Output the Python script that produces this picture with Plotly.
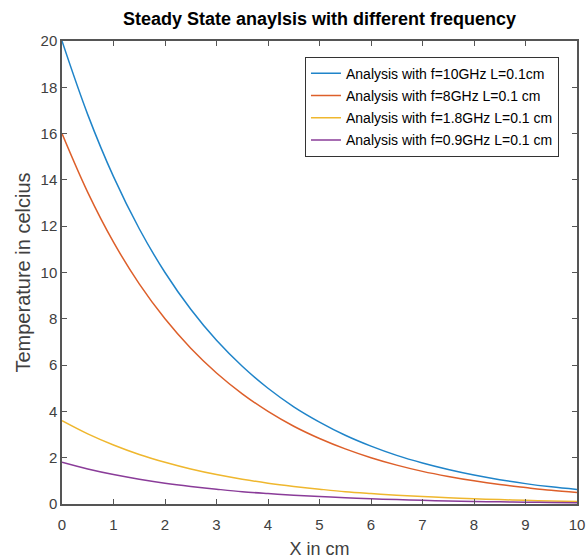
import plotly.graph_objects as go

x_cm = [0, 0.5, 1, 1.5, 2, 2.5, 3, 3.5, 4, 4.5, 5, 5.5, 6, 6.5, 7, 7.5, 8, 8.5, 9, 9.5, 10]
temp_10ghz = [20, 16.82, 14.14, 11.89, 10.0, 8.41, 7.07, 5.95, 5.0, 4.2, 3.54, 2.97, 2.5, 2.1, 1.77, 1.49, 1.25, 1.05, 0.88, 0.74, 0.625]
temp_8ghz = [16, 13.46, 11.31, 9.51, 8.0, 6.73, 5.66, 4.76, 4.0, 3.36, 2.83, 2.38, 2.0, 1.68, 1.41, 1.19, 1.0, 0.84, 0.71, 0.59, 0.5]
temp_1_8ghz = [3.6, 3.03, 2.55, 2.14, 1.8, 1.51, 1.27, 1.07, 0.9, 0.76, 0.64, 0.53, 0.45, 0.38, 0.32, 0.27, 0.225, 0.19, 0.16, 0.13, 0.11]
temp_0_9ghz = [1.8, 1.51, 1.27, 1.07, 0.9, 0.76, 0.64, 0.53, 0.45, 0.38, 0.32, 0.27, 0.225, 0.19, 0.16, 0.13, 0.11, 0.095, 0.08, 0.067, 0.056]

names = ["Analysis with f=10GHz L=0.1cm", "Analysis with f=8GHz L=0.1 cm",
         "Analysis with f=1.8GHz L=0.1 cm", "Analysis with f=0.9GHz L=0.1 cm"]
colors = ["#1f84c9", "#dd5f2a", "#efb72e", "#8a3c99"]
series = [temp_10ghz, temp_8ghz, temp_1_8ghz, temp_0_9ghz]

fig = go.Figure()
for i, (n, c, s) in enumerate(zip(names, colors, series)):
    fig.add_trace(go.Scatter(x=x_cm, y=s, mode="lines", name=n, legendgroup=f"g{i}",
                             line=dict(color=c, width=1.5, shape="spline")))

font = "Liberation Sans, Arial, sans-serif"
axis_common = dict(showgrid=False, zeroline=False, showline=True, linecolor="#555555",
                   linewidth=1.5, mirror="allticks", ticks="inside", ticklen=5,
                   tickcolor="#555555", automargin=False,
                   tickfont=dict(family=font, size=15, color="#404040"))

fig.update_layout(
    width=586, height=559,
    margin=dict(l=62, r=9, t=41, b=55),
    paper_bgcolor="white", plot_bgcolor="white",
    title=dict(text="<b>Steady State anaylsis with different frequency</b>",
               x=0.5, xanchor="center", xref="paper", y=0.966, yanchor="middle",
               font=dict(family=font, size=18, color="black")),
    xaxis=dict(range=[0, 10], dtick=1, ticklabelstandoff=6,
               title=dict(text="X in cm", standoff=11,
                          font=dict(family=font, size=18, color="#404040")), **axis_common),
    yaxis=dict(range=[0, 20], dtick=2,
               title=dict(text="Temperature in celcius", standoff=5,
                          font=dict(family=font, size=20, color="#404040")), **axis_common),
    legend=dict(x=0.965, y=0.966, xanchor="right", yanchor="top",
                bgcolor="white", bordercolor="#333333", borderwidth=1,
                font=dict(family=font, size=14, color="black"),
                tracegroupgap=1, itemwidth=30),
    showlegend=True,
)

fig.write_html("out.html")
